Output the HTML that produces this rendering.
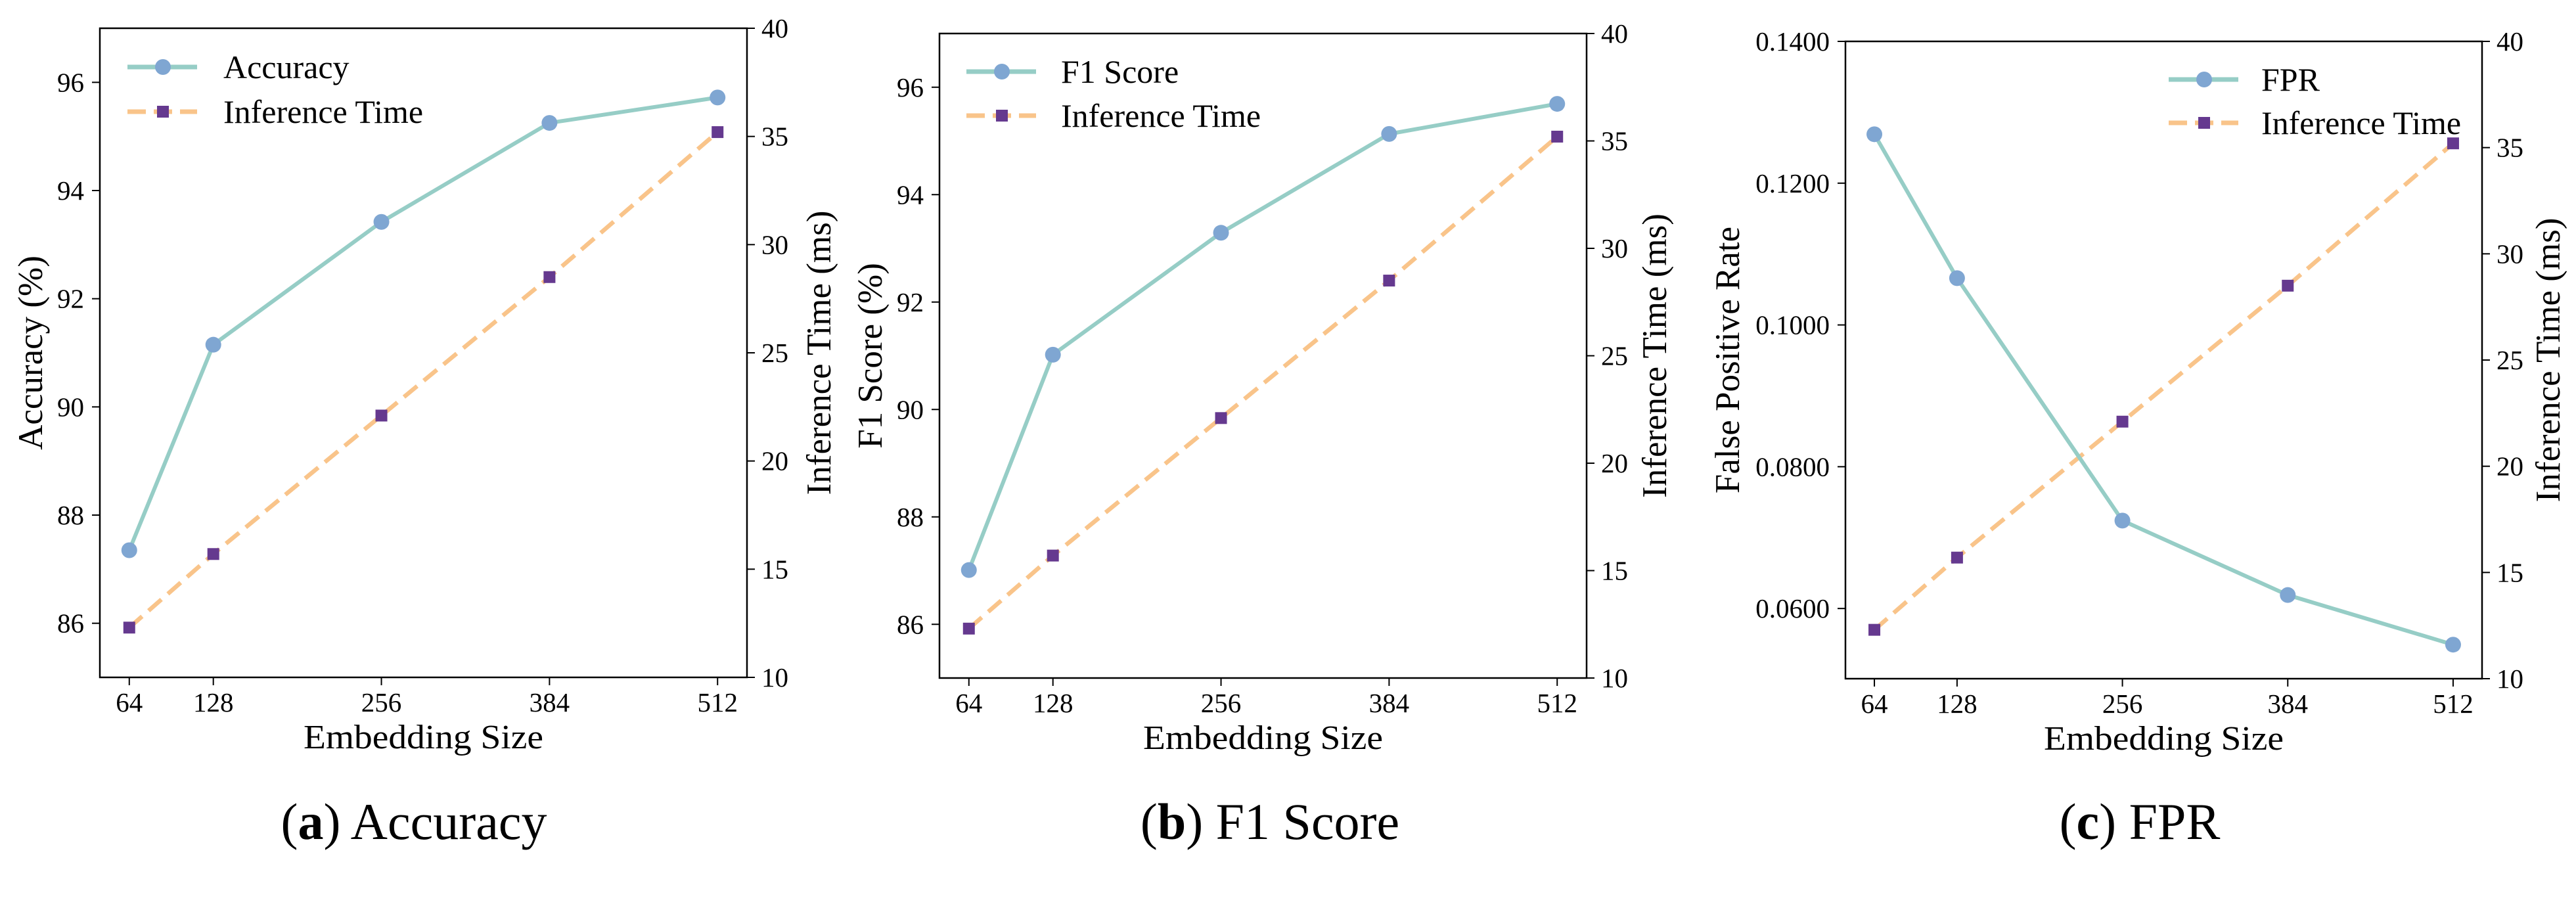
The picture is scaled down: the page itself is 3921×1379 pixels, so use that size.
<!DOCTYPE html>
<html><head><meta charset="utf-8"><style>
html,body{margin:0;padding:0;background:#fff}
svg text{font-family:"Liberation Serif",serif;fill:#000}
</style></head><body>
<svg id="chart" xmlns="http://www.w3.org/2000/svg" width="3921" height="1374" viewBox="0 0 3921 1374"></svg>
<script>
const categories = [64, 128, 256, 384, 512];
const inferenceTime = [12.3, 15.7, 22.1, 28.5, 35.2];
const accuracyValues = [87.35, 91.15, 93.42, 95.25, 95.72];
const f1Values = [87.01, 91.02, 93.29, 95.13, 95.69];
const fprValues = [0.1269, 0.1066, 0.0724, 0.0619, 0.0549];
const accTicks = [86, 88, 90, 92, 94, 96];
const fprTicks = [0.06, 0.08, 0.10, 0.12, 0.14];
const timeTicks = [10, 15, 20, 25, 30, 35, 40];

const NS = 'http://www.w3.org/2000/svg';
const svg = document.getElementById('chart');
function mk(tag, attrs, parent) {
  const e = document.createElementNS(NS, tag);
  for (const k in attrs) e.setAttribute(k, attrs[k]);
  (parent || svg).appendChild(e);
  return e;
}
function txt(parent, x, y, s, size, anchor, extra) {
  const t = mk('text', Object.assign({x: x, y: y, 'font-size': size, 'text-anchor': anchor || 'start'}, extra || {}), parent);
  t.textContent = s;
  return t;
}

const panels = [
  {key:'accuracy', L:152, R:1137, T:43, B:1031, yMin:85, yMax:97, vals:accuracyValues, ticks:accTicks, fmt:v=>String(v),
   ylabel:'Accuracy (%)', ylx:46, rlx:1246, leg:'Accuracy', legX0:194, legRow:[102,170], textX:340, cap:'Accuracy', capLetter:'a', capX:630},
  {key:'f1', L:1430, R:2415, T:51, B:1032, yMin:85, yMax:97, vals:f1Values, ticks:accTicks, fmt:v=>String(v),
   ylabel:'F1 Score (%)', ylx:1324, rlx:2518, leg:'F1 Score', legX0:1471, legRow:[109,176], textX:1615, cap:'F1 Score', capLetter:'b', capX:1933},
  {key:'fpr', L:2809, R:3778, T:63, B:1033, yMin:0.0501, yMax:0.14, vals:fprValues, ticks:fprTicks, fmt:v=>v.toFixed(4),
   ylabel:'False Positive Rate', ylx:2629, rlx:3878, leg:'FPR', legX0:3301, legRow:[121,187], textX:3442, cap:'FPR', capLetter:'c', capX:3257}
];

panels.forEach(p => {
  const g = mk('g', {});
  
  
  const xMin = 64 - 22.4, xMax = 512 + 22.4;
  const xs = v => p.L + (v - xMin) / (xMax - xMin) * (p.R - p.L);
  const ys = v => p.B - (v - p.yMin) / (p.yMax - p.yMin) * (p.B - p.T);
  const ts = v => p.B - (v - 10) / 30 * (p.B - p.T);

  const tl = mk('polyline', {points: categories.map((c,i)=>xs(c)+','+ts(inferenceTime[i])).join(' '), fill:'none', stroke:'#f9c48a', 'stroke-width':6.5, 'stroke-dasharray':'26,13'}, g);
  
  
  const ml = mk('polyline', {points: categories.map((c,i)=>xs(c)+','+ys(p.vals[i])).join(' '), fill:'none', stroke:'#96cdc6', 'stroke-width':6}, g);
  
  
  categories.forEach((c,i) => {
    const s = mk('rect', {x: xs(c)-9, y: ts(inferenceTime[i])-9, width:18, height:18, fill:'#65398f'}, g);
    
    
    const m = mk('circle', {cx: xs(c), cy: ys(p.vals[i]), r:12, fill:'#7fa6d2'}, g);
    
    
  });

  const fr = mk('rect', {x:p.L, y:p.T, width:p.R-p.L, height:p.B-p.T, fill:'none', stroke:'#000', 'stroke-width':2.5}, g);
  
  

  categories.forEach(c => {
    mk('line', {x1:xs(c), x2:xs(c), y1:p.B, y2:p.B+12, stroke:'#000', 'stroke-width':2}, g);
    const t = txt(g, xs(c), p.B+52, String(c), 41, 'middle');
    
    
  });
  p.ticks.forEach(v => {
    mk('line', {x1:p.L-12, x2:p.L, y1:ys(v), y2:ys(v), stroke:'#000', 'stroke-width':2}, g);
    const t = txt(g, p.L-24, ys(v)+14, p.fmt(v), 41, 'end');
    
    
  });
  timeTicks.forEach(v => {
    mk('line', {x1:p.R, x2:p.R+12, y1:ts(v), y2:ts(v), stroke:'#000', 'stroke-width':2}, g);
    const t = txt(g, p.R+22, ts(v)+14, String(v), 41, 'start');
    
    
  });
  const xl = txt(g, (p.L+p.R)/2, p.B+108, 'Embedding Size', 52, 'middle', {textLength:365, lengthAdjust:'spacingAndGlyphs'});
  
  
  const cy = (p.T+p.B)/2;
  const yl = txt(g, 0, 0, p.ylabel, 53, 'middle', {transform:'translate('+(p.ylx+18)+','+cy+') rotate(-90)'});
  
  
  const rl = txt(g, 0, 0, 'Inference Time (ms)', 53, 'middle', {transform:'translate('+(p.rlx+18)+','+cy+') rotate(-90)'});
  
  

  const lg = mk('g', {}, g);
  
  
  const x0 = p.legX0, x1 = p.legX0 + 106, xm = p.legX0 + 54;
  mk('line', {x1:x0, x2:x1, y1:p.legRow[0], y2:p.legRow[0], stroke:'#96cdc6', 'stroke-width':7}, lg);
  mk('circle', {cx:xm, cy:p.legRow[0], r:12, fill:'#7fa6d2'}, lg);
  txt(lg, p.textX, p.legRow[0]+17, p.leg, 50, 'start');
  mk('line', {x1:x0, x2:x1, y1:p.legRow[1], y2:p.legRow[1], stroke:'#f9c48a', 'stroke-width':7, 'stroke-dasharray':'28,12'}, lg);
  mk('rect', {x:xm-9, y:p.legRow[1]-9, width:18, height:18, fill:'#65398f'}, lg);
  txt(lg, p.textX, p.legRow[1]+17, 'Inference Time', 50, 'start');

  const cap = mk('text', {x:p.capX, y:1277, 'font-size':78, 'text-anchor':'middle'}, svg);
  
  
  const a = mk('tspan', {}, cap); a.textContent = '(';
  const b = mk('tspan', {'font-weight':'bold'}, cap); b.textContent = p.capLetter;
  const c = mk('tspan', {}, cap); c.textContent = ') ' + p.cap;
});
</script>
</body></html>
